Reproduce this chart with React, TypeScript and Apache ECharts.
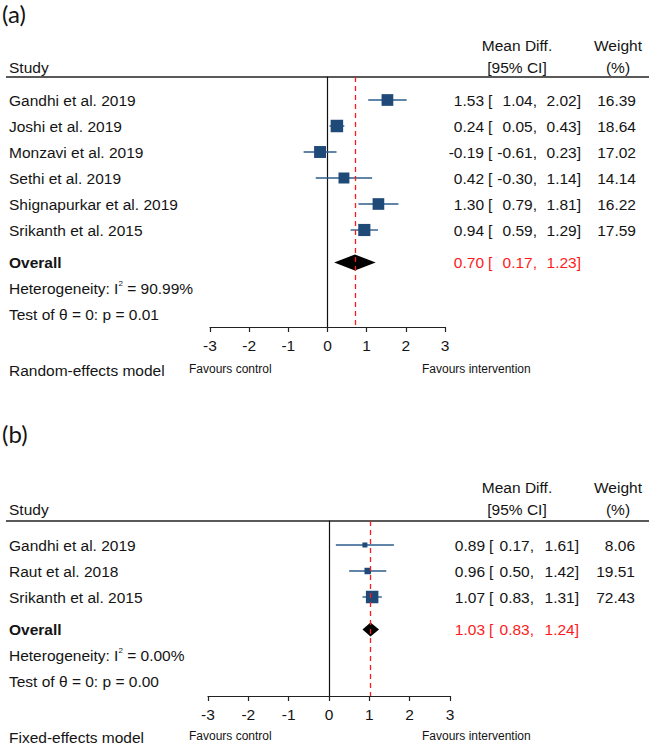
import React, { useEffect, useRef } from "react";
import * as echarts from "echarts";

const FONT = '"Liberation Sans", Arial, Helvetica, sans-serif';
const TEXT_COLOR = "#141414";
const SQ_COLOR = "#1f4a78";
const CI_COLOR = "#2d5d8c";
const RED = "#ff1a1a";
const FS = 15.5;

// Panel (a) – random-effects model
const studiesA = [
  "Gandhi et al. 2019",
  "Joshi et al. 2019",
  "Monzavi et al. 2019",
  "Sethi et al. 2019",
  "Shignapurkar et al. 2019",
  "Srikanth et al. 2015",
];
const estA = [1.53, 0.24, -0.19, 0.42, 1.3, 0.94];
const loA = [1.04, 0.05, -0.61, -0.3, 0.79, 0.59];
const hiA = [2.02, 0.43, 0.23, 1.14, 1.81, 1.29];
const weightA = [16.39, 18.64, 17.02, 14.14, 16.22, 17.59];
const overallA = [0.7, 0.17, 1.23];
const i2A = "90.99%";
const pA = "0.01";

// Panel (b) – fixed-effects model
const studiesB = ["Gandhi et al. 2019", "Raut et al. 2018", "Srikanth et al. 2015"];
const estB = [0.89, 0.96, 1.07];
const loB = [0.17, 0.5, 0.83];
const hiB = [1.61, 1.42, 1.31];
const weightB = [8.06, 19.51, 72.43];
const overallB = [1.03, 0.83, 1.24];
const i2B = "0.00%";
const pB = "0.00";

const xTickMin = -3;
const xTickMax = 3;

function txt(text: string, x: number, y: number, align: string, extra: any = {}) {
  return {
    type: "text",
    x,
    y,
    style: {
      text,
      fill: TEXT_COLOR,
      fontSize: FS,
      fontFamily: FONT,
      align,
      verticalAlign: "middle",
      textAlign: align,
      textVerticalAlign: "middle",
      ...extra,
    },
  };
}

type Panel = {
  label: string;
  model: string;
  names: string[];
  est: number[];
  lo: number[];
  hi: number[];
  weight: number[];
  overall: number[];
  i2: string;
  p: string;
  grid: { left: number; width: number; top: number; height: number };
  rowOffset: number;
  rowPx: number;
  cols: { est: number; br: number; lo: number; hi: number; wt: number };
  labelY: number;
  headY1: number;
  headY2: number;
  bottomY: number;
  diamondH: number;
};

const panels: Panel[] = [
  {
    label: "(a)",
    model: "Random-effects model",
    names: studiesA,
    est: estA,
    lo: loA,
    hi: hiA,
    weight: weightA,
    overall: overallA,
    i2: i2A,
    p: pA,
    grid: { left: 210, width: 235, top: 77, height: 250 },
    rowOffset: 23,
    rowPx: 26,
    cols: { est: 484, br: 488, lo: 537, hi: 581, wt: 636 },
    labelY: 13,
    headY1: 45,
    headY2: 67,
    bottomY: 369,
    diamondH: 8,
  },
  {
    label: "(b)",
    model: "Fixed-effects model",
    names: studiesB,
    est: estB,
    lo: loB,
    hi: hiB,
    weight: weightB,
    overall: overallB,
    i2: i2B,
    p: pB,
    grid: { left: 208, width: 242, top: 521, height: 175 },
    rowOffset: 24,
    rowPx: 26,
    cols: { est: 485, br: 489, lo: 534, hi: 579, wt: 635 },
    labelY: 433,
    headY1: 487,
    headY2: 509,
    bottomY: 736,
    diamondH: 7,
  },
];

const fmt = (v: number) => v.toFixed(2);

function buildOption() {
  const grids: any[] = [];
  const xAxes: any[] = [];
  const yAxes: any[] = [];
  const series: any[] = [];
  const graphic: any[] = [];

  panels.forEach((pn, gi) => {
    const g = pn.grid;
    grids.push({ left: g.left, width: g.width, top: g.top, height: g.height, containLabel: false });
    const yMin = -pn.rowOffset / pn.rowPx;
    const yMax = (g.height - pn.rowOffset) / pn.rowPx;
    xAxes.push({
      type: "value",
      gridIndex: gi,
      min: xTickMin,
      max: xTickMax,
      interval: 1,
      axisLine: { show: true, onZero: false, lineStyle: { color: "#222", width: 1.2 } },
      axisTick: { show: true, length: 5, lineStyle: { color: "#222", width: 1.2 } },
      axisLabel: { fontSize: FS, color: TEXT_COLOR, margin: 10, fontFamily: FONT },
      splitLine: { show: false },
    });
    yAxes.push({
      type: "value",
      gridIndex: gi,
      min: yMin,
      max: yMax,
      inverse: true,
      axisLine: { show: true, onZero: true, lineStyle: { color: "#111", width: 1.2 } },
      axisTick: { show: false },
      axisLabel: { show: false },
      splitLine: { show: false },
    });

    const maxW = Math.max(...pn.weight);
    const c = pn.cols;

    series.push({
      type: "custom",
      xAxisIndex: gi,
      yAxisIndex: gi,
      clip: false,
      encode: { x: [0, 1, 2], y: 4 },
      data: pn.names.map((_, i) => [pn.est[i], pn.lo[i], pn.hi[i], pn.weight[i], i]),
      renderItem: (params: any, api: any) => {
        const i = params.dataIndex;
        const row = api.value(4);
        const pe = api.coord([api.value(0), row]);
        const pl = api.coord([api.value(1), row]);
        const ph = api.coord([api.value(2), row]);
        const w = api.value(3);
        const s = Math.max(5, 12.5 * Math.sqrt(w / maxW));
        const y = pe[1];
        return {
          type: "group",
          children: [
            {
              type: "line",
              shape: { x1: pl[0], y1: y, x2: ph[0], y2: y },
              style: { stroke: CI_COLOR, lineWidth: 1.4 },
            },
            {
              type: "rect",
              shape: { x: pe[0] - s / 2, y: y - s / 2, width: s, height: s },
              style: { fill: SQ_COLOR },
            },
            txt(pn.names[i], 9, y, "left"),
            txt(fmt(pn.est[i]), c.est, y, "right"),
            txt("[", c.br, y, "left"),
            txt(fmt(pn.lo[i]) + ",", c.lo, y, "right"),
            txt(fmt(pn.hi[i]) + "]", c.hi, y, "right"),
            txt(w.toFixed(2), c.wt, y, "right"),
          ],
        };
      },
      markLine: {
        silent: true,
        symbol: "none",
        label: { show: false },
        lineStyle: { color: RED, type: [5, 4], width: 1.3 },
        data: [{ xAxis: pn.overall[0] }],
      },
      z: 3,
    });

    const oRow = pn.names.length + 0.25;
    series.push({
      type: "custom",
      xAxisIndex: gi,
      yAxisIndex: gi,
      clip: false,
      encode: { x: [0, 1, 2], y: 3 },
      data: [[pn.overall[0], pn.overall[1], pn.overall[2], oRow]],
      renderItem: (params: any, api: any) => {
        const row = api.value(3);
        const pe = api.coord([api.value(0), row]);
        const pl = api.coord([api.value(1), row]);
        const ph = api.coord([api.value(2), row]);
        const y = pe[1];
        const y1 = api.coord([0, row + 1])[1];
        const y2 = api.coord([0, row + 2])[1];
        const h = pn.diamondH;
        return {
          type: "group",
          children: [
            {
              type: "polygon",
              shape: {
                points: [
                  [pl[0], y],
                  [pe[0], y - h],
                  [ph[0], y],
                  [pe[0], y + h],
                ],
              },
              style: { fill: "#000" },
            },
            txt("Overall", 9, y, "left", { fontWeight: "bold" }),
            txt(fmt(pn.overall[0]), c.est, y, "right", { fill: RED }),
            txt("[", c.br, y, "left", { fill: RED }),
            txt(fmt(pn.overall[1]) + ",", c.lo, y, "right", { fill: RED }),
            txt(fmt(pn.overall[2]) + "]", c.hi, y, "right", { fill: RED }),
            {
              type: "text",
              x: 9,
              y: y1,
              style: {
                text: "{a|Heterogeneity: I}{s|2}{a| = " + pn.i2 + "}",
                align: "left",
                verticalAlign: "middle",
                textAlign: "left",
                textVerticalAlign: "middle",
                rich: {
                  a: { fontSize: FS, fontFamily: FONT, fill: TEXT_COLOR, color: TEXT_COLOR, lineHeight: 18 },
                  s: {
                    fontSize: 8,
                    fontFamily: FONT,
                    fill: TEXT_COLOR,
                    color: TEXT_COLOR,
                    verticalAlign: "top",
                    lineHeight: 10,
                  },
                },
              },
            },
            txt("Test of \u03b8 = 0: p = " + pn.p, 9, y2, "left"),
          ],
        };
      },
      z: 3,
    });

    graphic.push(
      {
        type: "text",
        left: 2,
        top: pn.labelY - 12,
        style: { text: pn.label, fontSize: 24, fontFamily: "Lato, 'Open Sans', sans-serif", fill: TEXT_COLOR },
      },
      {
        type: "line",
        shape: { x1: 6, y1: g.top, x2: 649, y2: g.top },
        style: { stroke: "#222", lineWidth: 1.6 },
      },
      txt("Study", 9, pn.headY2, "left"),
      txt("Mean Diff.", 517, pn.headY1, "center"),
      txt("[95% CI]", 517, pn.headY2, "center"),
      txt("Weight", 618, pn.headY1, "center"),
      txt("(%)", 618, pn.headY2, "center"),
      txt(pn.model, 9, pn.bottomY + 1, "left"),
      txt("Favours control", 189, pn.bottomY, "left", { fontSize: 12 }),
      txt("Favours intervention", 422, pn.bottomY, "left", { fontSize: 12 })
    );
  });

  return {
    animation: false,
    backgroundColor: "#ffffff",
    grid: grids,
    xAxis: xAxes,
    yAxis: yAxes,
    series,
    graphic,
  };
}

export default function App() {
  const ref = useRef<HTMLDivElement>(null);
  useEffect(() => {
    if (!ref.current) return;
    const chart = echarts.init(ref.current, null, { renderer: "svg" });
    chart.setOption(buildOption() as any);
    return () => chart.dispose();
  }, []);
  return (
    <div
      ref={ref}
      style={{ position: "absolute", left: 0, top: 0, width: 650, height: 746, background: "#fff" }}
    />
  );
}
